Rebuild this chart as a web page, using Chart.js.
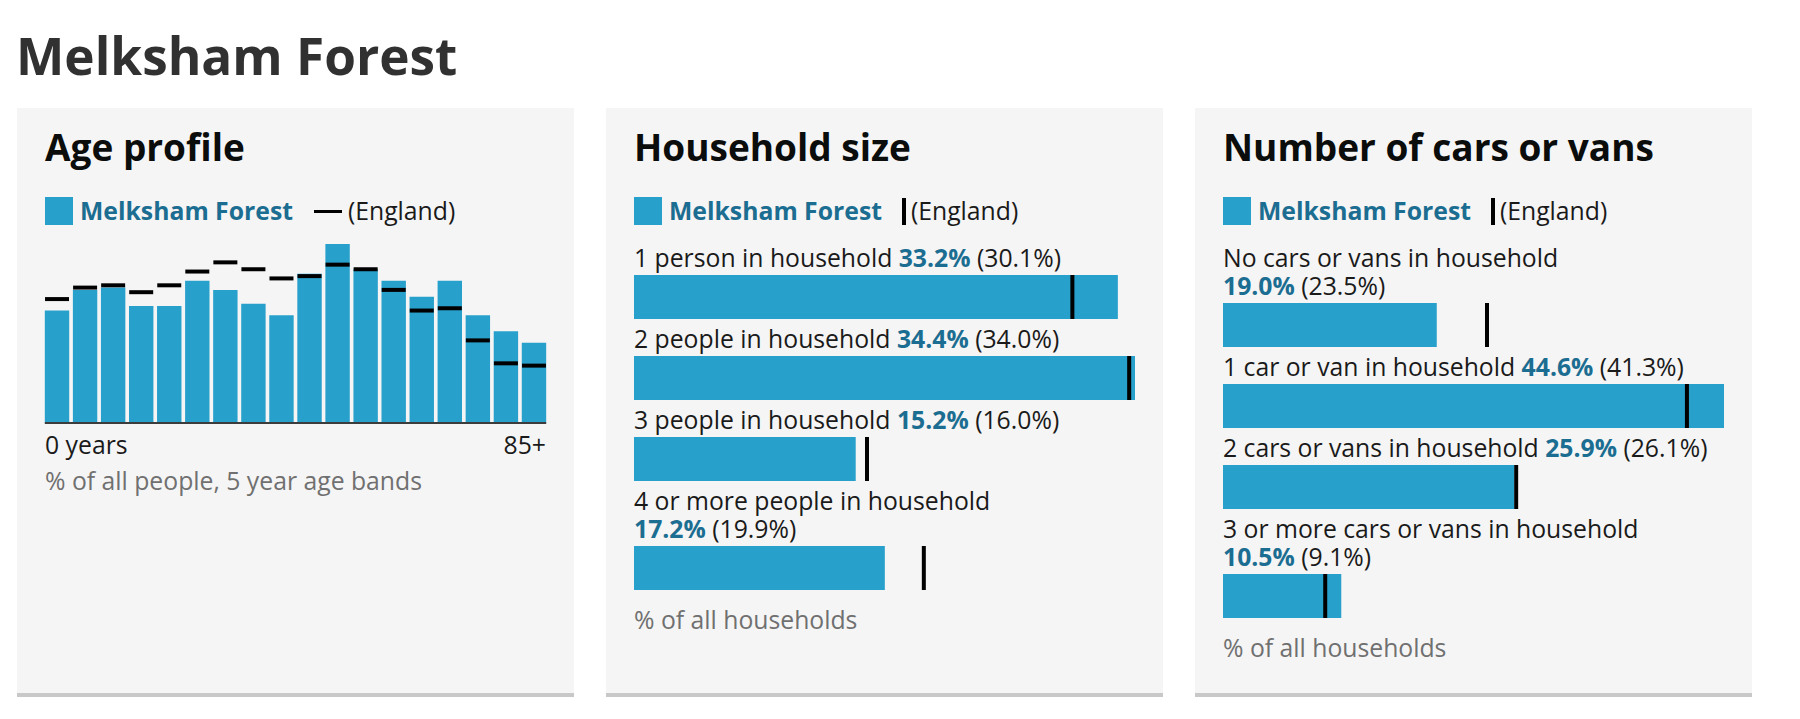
<!DOCTYPE html>
<html><head><meta charset="utf-8">
<script src="https://cdn.jsdelivr.net/npm/chart.js@4.4.1/dist/chart.umd.min.js"></script>
<style>
html,body{margin:0;padding:0;background:#fff;}
body{width:1800px;height:719px;position:relative;overflow:hidden;font-family:"Open Sans",sans-serif;color:#1a1a1a;}
#title{position:absolute;left:16px;top:25px;font-size:51.3px;line-height:60px;font-weight:700;color:#323132;margin:0;white-space:nowrap;}
.panel{position:absolute;top:108px;width:557px;height:585px;background:#f5f5f5;border-bottom:4px solid #c8c8c8;}
.ptitle{position:absolute;left:28px;top:17px;font-size:37px;line-height:44px;font-weight:700;color:#0b0c0c;white-space:nowrap;margin:0;}
.legend{position:absolute;left:28px;top:89px;height:28px;font-size:24.75px;line-height:28px;white-space:nowrap;display:flex;align-items:center;}
.sq{width:28px;height:28px;background:#27a0cc;margin-right:7px;flex:none;}
.lname{font-weight:700;color:#1b6d91;}
.dash{width:28px;height:3px;background:#000;margin-left:21px;margin-right:6px;flex:none;}
.vbar{width:4px;height:27px;background:#000;margin-left:20px;margin-right:5px;flex:none;}
.txt{font-size:24.75px;line-height:28px;white-space:nowrap;}
.foot{color:#707070;}
.rows{position:absolute;left:28px;top:136px;width:501px;}
.lab{font-size:24.75px;line-height:28px;}
.val{white-space:nowrap;}
.val b{color:#1b6d91;font-weight:700;}
.bar{height:44px;margin-top:3px;margin-bottom:6px;position:relative;}
.bar canvas{display:block;}
.rows .foot{margin-top:16px;}
</style>
</head><body>
<h1 id="title">Melksham Forest</h1>

<div class="panel" style="left:17px">
  <h2 class="ptitle">Age profile</h2>
  <div class="legend"><div class="sq"></div><span class="lname">Melksham Forest</span><div class="dash"></div><span>(England)</span></div>
  <div style="position:absolute;left:26px;top:130px;width:505px;height:188px;"><canvas id="age" width="505" height="188"></canvas></div>
  <div class="txt" id="ageStart" style="position:absolute;left:28px;top:323px;"></div>
  <div class="txt" id="ageEnd" style="position:absolute;right:28px;top:323px;"></div>
  <div class="txt foot" style="position:absolute;left:28px;top:359px;">% of all people, 5 year age bands</div>
</div>

<div class="panel" style="left:606px">
  <h2 class="ptitle">Household size</h2>
  <div class="legend"><div class="sq"></div><span class="lname">Melksham Forest</span><div class="vbar"></div><span>(England)</span></div>
  <div class="rows" id="hhRows"></div>
</div>

<div class="panel" style="left:1195px">
  <h2 class="ptitle">Number of cars or vans</h2>
  <div class="legend"><div class="sq"></div><span class="lname">Melksham Forest</span><div class="vbar"></div><span>(England)</span></div>
  <div class="rows" id="carRows"></div>
</div>

<script>
// ---- Data ----
const ageBands = ['0-4','5-9','10-14','15-19','20-24','25-29','30-34','35-39','40-44','45-49','50-54','55-59','60-64','65-69','70-74','75-79','80-84','85+'];
const ageArea = [4.9,5.8,5.9,5.1,5.1,6.2,5.8,5.2,4.7,6.5,7.8,6.7,6.2,5.5,6.2,4.7,4.0,3.5];
const ageEngland = [5.4,5.9,6.0,5.7,6.0,6.6,7.0,6.7,6.3,6.4,6.9,6.7,5.8,4.9,5.0,3.6,2.6,2.5];
const ageTickLabels = ['0 years','85+'];

const hhLabels = ['1 person in household','2 people in household','3 people in household','4 or more people in household'];
const hhArea = [33.2,34.4,15.2,17.2];
const hhEngland = [30.1,34.0,16.0,19.9];

const carLabels = ['No cars or vans in household','1 car or van in household','2 cars or vans in household','3 or more cars or vans in household'];
const carArea = [19.0,44.6,25.9,10.5];
const carEngland = [23.5,41.3,26.1,9.1];

const BLUE = '#27a0cc';

// ---- Age profile ----
document.getElementById('ageStart').textContent = ageTickLabels[0];
document.getElementById('ageEnd').textContent = ageTickLabels[1];

const baselinePlugin = {
  id:'baseline',
  afterDatasetsDraw(chart){
    const meta = chart.getDatasetMeta(1);
    const first = meta.data[0], last = meta.data[meta.data.length-1];
    const ctx = chart.ctx;
    ctx.save();
    ctx.fillStyle = '#3c3c3c';
    ctx.fillRect(first.x - first.width/2, chart.chartArea.bottom - 1, (last.x + last.width/2) - (first.x - first.width/2), 2);
    ctx.restore();
  }
};

new Chart(document.getElementById('age'), {
  type:'bar',
  data:{labels:ageBands, datasets:[
    {type:'line', label:'England', data:ageEngland, showLine:false, pointStyle:'line', pointRadius:12, pointHoverRadius:12, pointBorderWidth:4, pointBorderColor:'#000', borderColor:'#000', order:0, clip:false},
    {type:'bar', label:'Melksham Forest', data:ageArea, backgroundColor:BLUE, categoryPercentage:1, barPercentage:0.87, order:1}
  ]},
  options:{
    responsive:false, animation:false, events:[],
    layout:{autoPadding:false, padding:{top:6,bottom:3,left:0,right:0}},
    plugins:{legend:{display:false}, tooltip:{enabled:false}},
    scales:{
      x:{display:false},
      y:{display:false, min:0, max:Math.max(...ageArea, ...ageEngland)}
    }
  },
  plugins:[baselinePlugin]
});

// ---- Bar rows ----
function buildRows(containerId, labels, area, england, footText){
  const box = document.getElementById(containerId);
  const max = Math.max(...area, ...england);
  labels.forEach((lab, i) => {
    const l = document.createElement('div');
    l.className = 'lab';
    l.innerHTML = lab + ' <span class="val"><b>' + area[i].toFixed(1) + '%</b> (' + england[i].toFixed(1) + '%)</span>';
    box.appendChild(l);
    const b = document.createElement('div');
    b.className = 'bar';
    const c = document.createElement('canvas');
    c.width = 501; c.height = 44;
    b.appendChild(c);
    box.appendChild(b);
    new Chart(c, {
      type:'bar',
      data:{labels:[lab], datasets:[
        {type:'line', data:[england[i]], indexAxis:'y', showLine:false, pointStyle:'line', rotation:90, pointRadius:22, pointHoverRadius:22, pointBorderWidth:4, pointBorderColor:'#000', borderColor:'#000', order:0, clip:false},
        {type:'bar', data:[area[i]], backgroundColor:BLUE, barPercentage:1, categoryPercentage:1, order:1}
      ]},
      options:{
        indexAxis:'y', responsive:false, animation:false, events:[],
        layout:{autoPadding:false, padding:0},
        plugins:{legend:{display:false}, tooltip:{enabled:false}},
        scales:{x:{display:false, min:0, max:max}, y:{display:false}}
      }
    });
  });
  const f = document.createElement('div');
  f.className = 'lab foot';
  f.textContent = footText;
  box.appendChild(f);
}
buildRows('hhRows', hhLabels, hhArea, hhEngland, '% of all households');
buildRows('carRows', carLabels, carArea, carEngland, '% of all households');
</script>
</body></html>
